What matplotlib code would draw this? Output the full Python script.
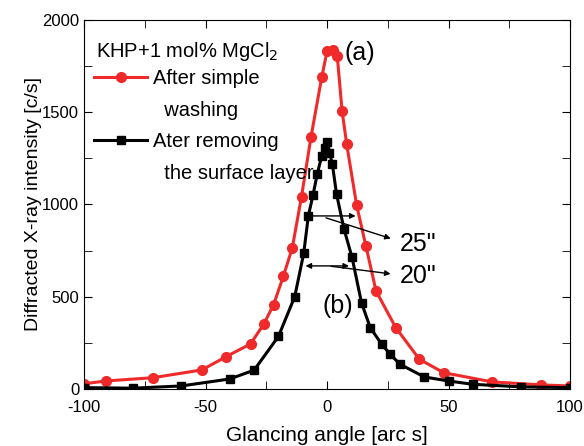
import matplotlib.pyplot as plt
from matplotlib.lines import Line2D

plt.rcParams['font.family'] = ['Liberation Sans', 'DejaVu Sans']
plt.rcParams['axes.unicode_minus'] = False

# After simple washing (red)
red_x = [-100, -91, -71.5, -51.5, -41.5, -31.5, -26, -22, -18, -14.3, -10.5, -6.6, -2.2, 0, 2.6,
         4.2, 6.2, 8.1, 12.2, 16, 20.2, 28.3, 38, 48, 68, 88, 100]
red_y = [28, 43, 61, 103, 175, 244, 352, 457, 610, 765, 1043, 1366, 1689, 1830, 1836,
         1805, 1507, 1326, 995, 775, 530, 332, 161, 88, 38, 22, 16]

# After removing the surface layer (black)
blk_x = [-100, -80, -60, -40, -30, -20, -13.3, -9.6, -7.7, -5.8, -4, -2.2, -1, 0, 1, 2.2,
         3.9, 7, 10.3, 14.2, 17.8, 22.5, 26, 30, 40, 50, 60, 80, 100]
blk_y = [7, 4, 16, 54, 102, 285, 500, 735, 938, 1050, 1167, 1263, 1308, 1340, 1281, 1218,
         1057, 866, 713, 466, 332, 242, 188, 134, 65, 43, 25, 11, 7]

fig = plt.figure(figsize=(5.84, 4.46), dpi=100)
ax = fig.add_axes([0.144, 0.128, 0.832, 0.827])

red_line, = ax.plot(red_x, red_y, '-o', color='#f02a2a', lw=2.2, ms=7)
blk_line, = ax.plot(blk_x, blk_y, '-s', color='black', lw=2.2, ms=6.3)

# FWHM arrows
ax.annotate('', xy=(-10.4, 938), xytext=(12.9, 938),
            arrowprops=dict(arrowstyle='<|-|>', color='black', lw=1, mutation_scale=8))
ax.annotate('', xy=(-10, 667), xytext=(10.2, 667),
            arrowprops=dict(arrowstyle='<|-|>', color='black', lw=1, mutation_scale=8))
ax.annotate('', xy=(27.3, 811), xytext=(-1.5, 932),
            arrowprops=dict(arrowstyle='-|>', color='black', lw=1, mutation_scale=8))
ax.annotate('', xy=(27.3, 622), xytext=(0.5, 667),
            arrowprops=dict(arrowstyle='-|>', color='black', lw=1, mutation_scale=8))
ax.text(30, 786, '25"', fontsize=18, va='center', ha='left')
ax.text(30, 612, '20"', fontsize=18, va='center', ha='left')
ax.text(7.2, 1822, '(a)', fontsize=18, va='center', ha='left')
ax.text(-2, 450, '(b)', fontsize=18, va='center', ha='left')

ax.set_xlim(-100, 100)
ax.set_ylim(0, 2000)
ax.set_xticks([-100, -50, 0, 50, 100])
ax.set_xticks([-75, -25, 25, 75], minor=True)
ax.set_yticks([0, 500, 1000, 1500, 2000])
ax.set_yticks([250, 750, 1250, 1750], minor=True)
ax.tick_params(which='both', direction='in', top=True, right=True, labelsize=12, length=6)
ax.tick_params(axis='x', pad=8)

ax.set_xlabel('Glancing angle [arc s]', fontsize=15, labelpad=8)
ax.set_ylabel('Diffracted X-ray intensity [c/s]', fontsize=14, labelpad=0)

# legend title
ax.text(0.025, 0.914, 'KHP+1 mol% MgCl$_2$', fontsize=14.5, transform=ax.transAxes,
        ha='left', va='center')

blank = Line2D([], [], linestyle='none')
leg = ax.legend([red_line, blank, blk_line, blank],
                ['After simple', '  washing', 'Ater removing', '  the surface layer'],
                loc='upper left', bbox_to_anchor=(0.012, 0.878), frameon=False, fontsize=14.5,
                handlelength=2.65, labelspacing=0.63, borderaxespad=0.0, borderpad=0.2,
                handletextpad=0.3)

fig.savefig('out.png')
